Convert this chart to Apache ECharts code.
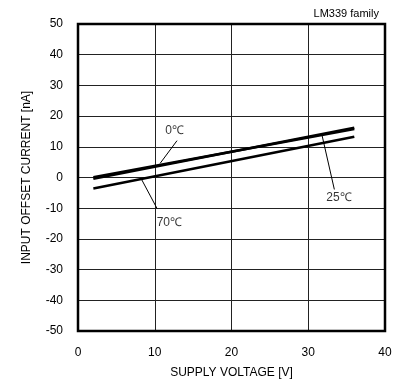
<!DOCTYPE html>
<html>
<head>
<meta charset="utf-8">
<script src="https://cdn.jsdelivr.net/npm/echarts@6/dist/echarts.min.js"></script>
<style>
  html, body { margin: 0; padding: 0; background: #fff; }
  #chart { width: 408px; height: 388px; }
</style>
</head>
<body>
<div id="chart"></div>
<script>
// data
const xTicks = [0, 10, 20, 30, 40]
const yTicks = [-50, -40, -30, -20, -10, 0, 10, 20, 30, 40, 50]
const line0C = [[2, -0.4], [36, 16.2]]
const line25C = [[2, 0.1], [36, 15.8]]
const line70C = [[2, -3.6], [36, 13.3]]
// callout labels: text position and pointer
const labelNames = ['0℃', '70℃', '25℃']
const labelPos = [[12.6, 15.2], [11.9, -14.6], [34.0, -6.5]]
const pointer0C = [[12.9, 12.0], [10.7, 4.6]]
const pointer70C = [[10.3, -10.1], [8.3, -0.7]]
const pointer25C = [[33.4, -3.9], [31.8, 13.7]]

const font = 'Liberation Sans, Arial, sans-serif'
const mychart = echarts.init(document.getElementById('chart'))

function curve(name, data, width) {
  return {
    name: name,
    type: 'line',
    data: data,
    showSymbol: false,
    silent: true,
    lineStyle: { color: '#000', width: width },
    z: 5
  }
}

let option = {
  animation: false,
  backgroundColor: '#fff',
  title: {
    text: 'LM339 family',
    right: 24,
    top: 3,
    textStyle: { fontFamily: font, fontSize: 11, fontWeight: 'normal', color: '#000' }
  },
  grid: { left: 78, right: 23, top: 24, bottom: 57 },
  xAxis: {
    type: 'value',
    min: xTicks[0],
    max: xTicks[xTicks.length - 1],
    interval: 10,
    name: 'SUPPLY VOLTAGE [V]',
    nameLocation: 'middle',
    nameGap: 36,
    nameTextStyle: { fontFamily: font, fontSize: 12, color: '#000' },
    axisLine: { show: false },
    axisTick: { show: false },
    axisLabel: { fontFamily: font, fontSize: 12, color: '#000', margin: 16 },
    splitLine: { lineStyle: { color: '#222', width: 1 } }
  },
  yAxis: {
    type: 'value',
    min: yTicks[0],
    max: yTicks[yTicks.length - 1],
    interval: 10,
    name: 'INPUT OFFSET CURRENT [nA]',
    nameLocation: 'middle',
    nameGap: 45,
    nameTextStyle: { fontFamily: font, fontSize: 12, color: '#000' },
    axisLine: { show: false },
    axisTick: { show: false },
    axisLabel: { fontFamily: font, fontSize: 12, color: '#000', margin: 15 },
    splitLine: { lineStyle: { color: '#222', width: 1 } }
  },
  series: [
    curve('0℃', line0C, 2.5),
    curve('25℃', line25C, 2.5),
    curve('70℃', line70C, 2.5),
    curve('p0', pointer0C, 1),
    curve('p70', pointer70C, 1),
    curve('p25', pointer25C, 1),
    {
      type: 'scatter',
      symbolSize: 0,
      silent: true,
      data: labelPos.map((p, i) => ({ value: p, name: labelNames[i] })),
      label: {
        show: true,
        position: 'inside',
        formatter: '{b}',
        fontFamily: font,
        fontSize: 12,
        color: '#000'
      },
      z: 6
    }
  ]
}
mychart.setOption(option)

// thick frame around plot area
const rect = mychart.getModel().getComponent('grid').coordinateSystem.getRect()
mychart.setOption({
  graphic: [{
    type: 'rect',
    shape: { x: rect.x, y: rect.y, width: rect.width, height: rect.height },
    style: { fill: null, stroke: '#000', lineWidth: 2.5 },
    silent: true,
    z: 10
  }]
})
</script>
</body>
</html>
